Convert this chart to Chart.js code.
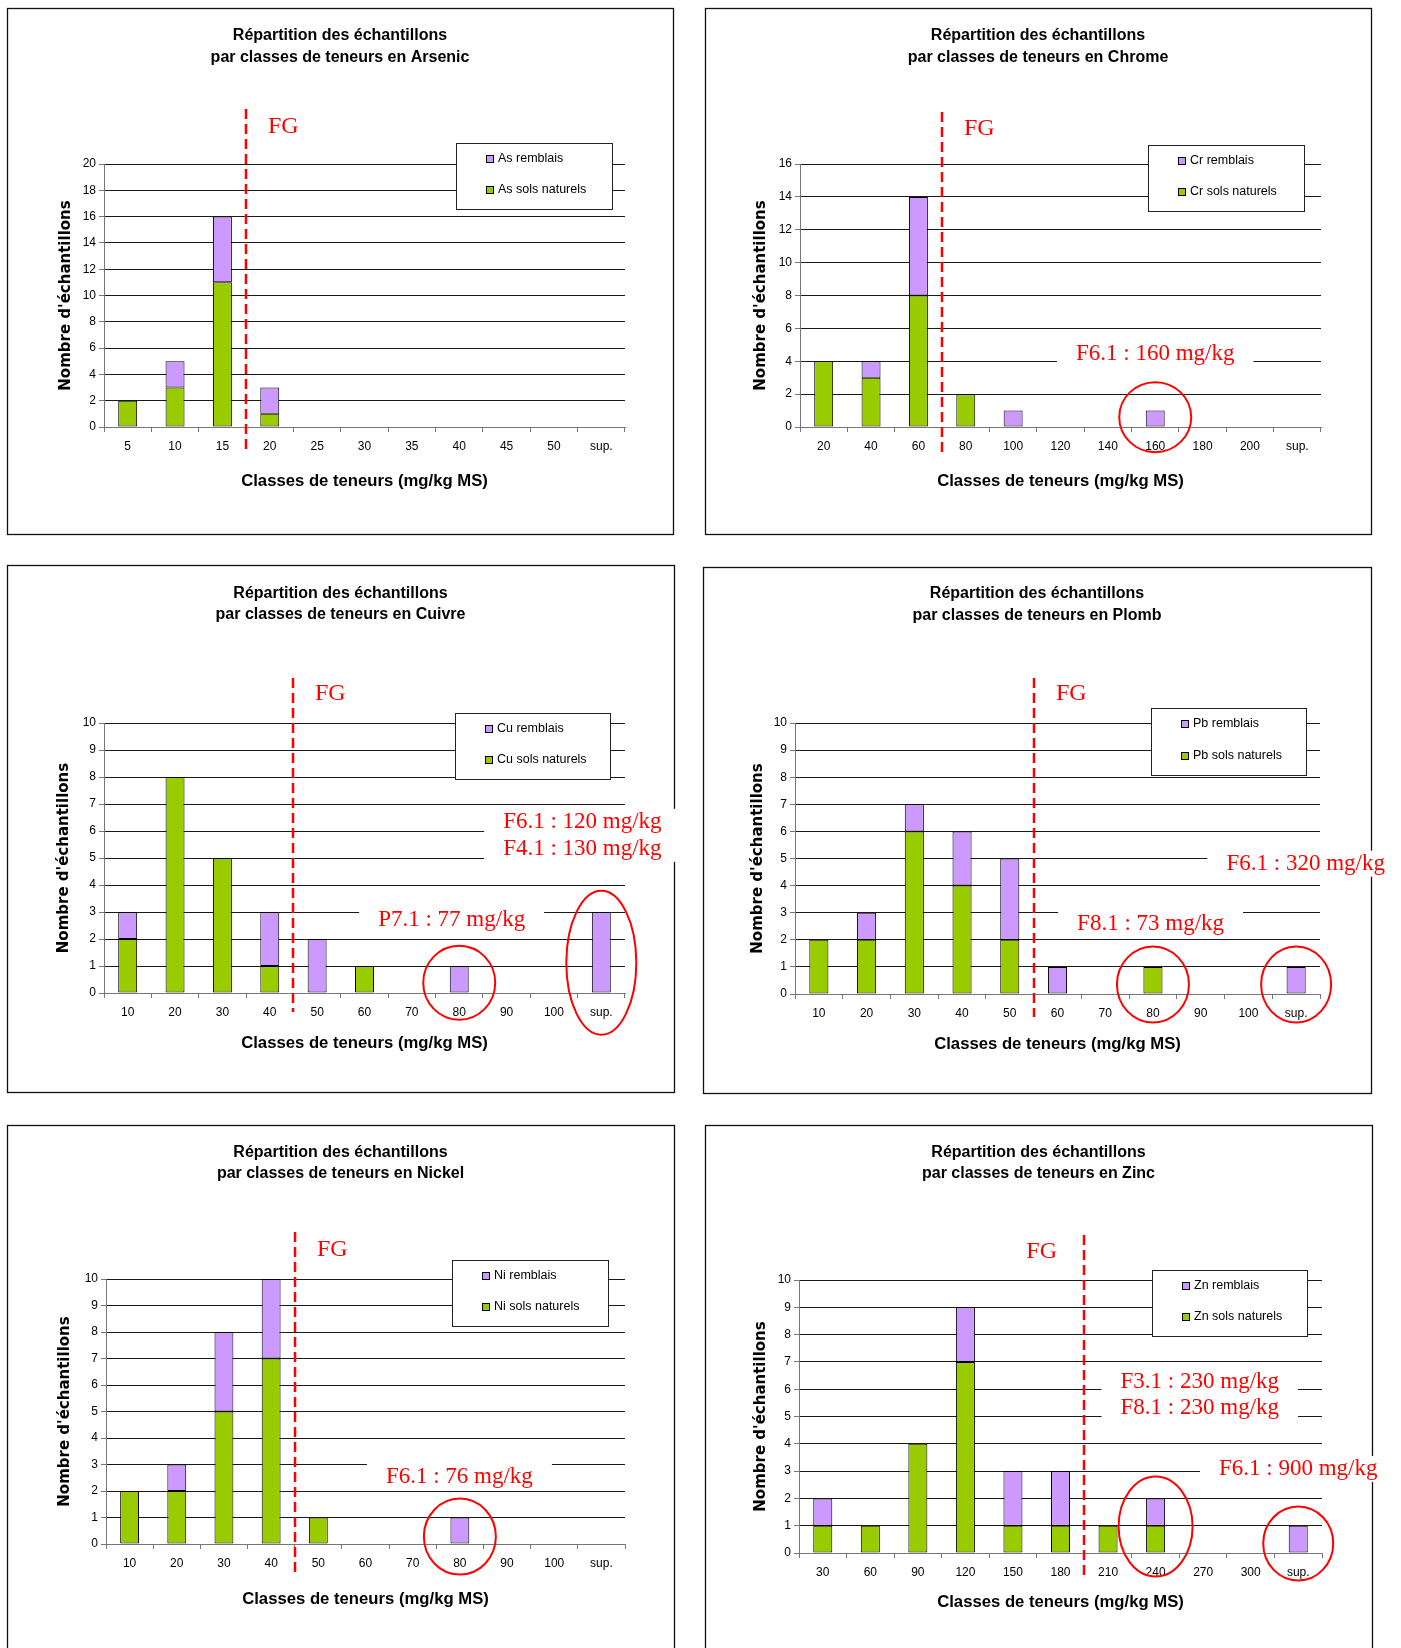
<!DOCTYPE html>
<html>
<head>
<meta charset="utf-8">
<script src="https://cdn.jsdelivr.net/npm/chart.js@4.4.1/dist/chart.umd.min.js"></script>
<style>
  html, body { margin: 0; padding: 0; background: #fff; }
  #page { position: relative; width: 1401px; height: 1648px; overflow: hidden; background: #fff; }
  .cell { position: absolute; }
</style>
</head>
<body>
<div id="page"></div>
<script>
// Classes de teneurs et nombre d'échantillons
const classesAs = ['5', '10', '15', '20', '25', '30', '35', '40', '45', '50', 'sup.'];
const natAs = [2, 3, 11, 1, 0, 0, 0, 0, 0, 0, 0];
const remAs = [0, 2, 5, 2, 0, 0, 0, 0, 0, 0, 0];

const classesCr = ['20', '40', '60', '80', '100', '120', '140', '160', '180', '200', 'sup.'];
const natCr = [4, 3, 8, 2, 0, 0, 0, 0, 0, 0, 0];
const remCr = [0, 1, 6, 0, 1, 0, 0, 1, 0, 0, 0];

const classesCu = ['10', '20', '30', '40', '50', '60', '70', '80', '90', '100', 'sup.'];
const natCu = [2, 8, 5, 1, 0, 1, 0, 0, 0, 0, 0];
const remCu = [1, 0, 0, 2, 2, 0, 0, 1, 0, 0, 3];

const classesPb = ['10', '20', '30', '40', '50', '60', '70', '80', '90', '100', 'sup.'];
const natPb = [2, 2, 6, 4, 2, 0, 0, 1, 0, 0, 0];
const remPb = [0, 1, 1, 2, 3, 1, 0, 0, 0, 0, 1];

const classesNi = ['10', '20', '30', '40', '50', '60', '70', '80', '90', '100', 'sup.'];
const natNi = [2, 2, 5, 7, 1, 0, 0, 0, 0, 0, 0];
const remNi = [0, 1, 3, 3, 0, 0, 0, 1, 0, 0, 0];

const classesZn = ['30', '60', '90', '120', '150', '180', '210', '240', '270', '300', 'sup.'];
const natZn = [1, 1, 4, 7, 1, 1, 1, 1, 0, 0, 0];
const remZn = [1, 0, 0, 2, 2, 2, 0, 1, 0, 0, 1];

const VERT = '#99CC00';
const VIOLET = '#CC99FF';
const ROUGE = '#FF0000';

// mise en page de chaque graphique (pixels dans la cellule)
const graphiques = [
  { metal: 'Arsenic', sym: 'As', classes: classesAs, nat: natAs, rem: remAs, max: 20, pas: 2,
    zone: [0, 0, 695, 552], cadre: [7, 8, 673, 534], plot: [104, 164, 625, 427],
    titreY: [36, 58], xTitreY: 481, yTitreX: 66, legende: [456, 143, 612, 209],
    fg: 2.5, fgHaut: 109, fgBas: 450, fgTexteY: 127, fgCote: 1,
    notes: [], cercles: [] },
  { metal: 'Chrome', sym: 'Cr', classes: classesCr, nat: natCr, rem: remCr, max: 16, pas: 2,
    zone: [695, 0, 706, 552], cadre: [10, 8, 676, 534], plot: [105, 164, 626, 427],
    titreY: [36, 58], xTitreY: 481, yTitreX: 66, legende: [453, 145, 609, 211],
    fg: 2.5, fgHaut: 112, fgBas: 452, fgTexteY: 129, fgCote: 1,
    notes: [{ lignes: ['F6.1 : 160 mg/kg'], i: 7, v: 4.43 }],
    cercles: [{ i: 7, v: 0.6, rx: 36, ry: 35 }] },
  { metal: 'Cuivre', sym: 'Cu', classes: classesCu, nat: natCu, rem: remCu, max: 10, pas: 1,
    zone: [0, 552, 695, 566], cadre: [7, 13, 674, 540], plot: [104, 171, 625, 441],
    titreY: [42, 63], xTitreY: 491, yTitreX: 64, legende: [455, 161, 610, 227],
    fg: 3.5, fgHaut: 126, fgBas: 460, fgTexteY: 142, fgCote: 1,
    notes: [{ lignes: ['F6.1 : 120 mg/kg', 'F4.1 : 130 mg/kg'], i: 9.6, v: 6.34, lh: 27 },
            { lignes: ['P7.1 : 77 mg/kg'], i: 6.84, v: 2.72 }],
    cercles: [{ i: 7, v: 0.38, rx: 36, ry: 37 }, { i: 10, v: 1.12, rx: 35, ry: 72 }] },
  { metal: 'Plomb', sym: 'Pb', classes: classesPb, nat: natPb, rem: remPb, max: 10, pas: 1,
    zone: [695, 552, 706, 566], cadre: [8, 15, 676, 541], plot: [100, 171, 625, 442],
    titreY: [42, 64], xTitreY: 492, yTitreX: 63, legende: [456, 156, 611, 223],
    fg: 4.5, fgHaut: 126, fgBas: 465, fgTexteY: 142, fgCote: 1,
    notes: [{ lignes: ['F6.1 : 320 mg/kg'], i: 10.2, v: 4.81 },
            { lignes: ['F8.1 : 73 mg/kg'], i: 6.95, v: 2.6 }],
    cercles: [{ i: 7, v: 0.35, rx: 36, ry: 38 }, { i: 10, v: 0.35, rx: 35, ry: 38 }] },
  { metal: 'Nickel', sym: 'Ni', classes: classesNi, nat: natNi, rem: remNi, max: 10, pas: 1,
    zone: [0, 1118, 695, 530], cadre: [7, 7, 674, 600], plot: [106, 161, 625, 426],
    titreY: [35, 56], xTitreY: 481, yTitreX: 65, legende: [452, 142, 608, 208],
    fg: 3.5, fgHaut: 114, fgBas: 455, fgTexteY: 132, fgCote: 1,
    notes: [{ lignes: ['F6.1 : 76 mg/kg'], i: 6.99, v: 2.54 }],
    cercles: [{ i: 7, v: 0.28, rx: 36, ry: 38 }] },
  { metal: 'Zinc', sym: 'Zn', classes: classesZn, nat: natZn, rem: remZn, max: 10, pas: 1,
    zone: [695, 1118, 706, 530], cadre: [10, 7, 677, 600], plot: [104, 162, 627, 435],
    titreY: [35, 56], xTitreY: 484, yTitreX: 66, legende: [457, 152, 612, 218],
    fg: 5.5, fgHaut: 117, fgBas: 459, fgTexteY: 134, fgCote: -1,
    notes: [{ lignes: ['F3.1 : 230 mg/kg', 'F8.1 : 230 mg/kg'], i: 7.93, v: 6.27, lh: 26 },
            { lignes: ['F6.1 : 900 mg/kg'], i: 10.0, v: 3.08 }],
    cercles: [{ i: 7, v: 0.97, rx: 37, ry: 50 }, { i: 10, v: 0.35, rx: 35, ry: 37 }] }
];

const SANS = '"Liberation Sans", Arial, sans-serif';
const SERIF = '"Liberation Serif", "Times New Roman", serif';
Chart.defaults.font.family = SANS;

// plugin : cadre, titres, légende, ligne FG, annotations et cercles rouges
function decor(g) {
  return {
    id: 'decor',
    beforeDraw(chart) {
      const ctx = chart.ctx;
      const b = g.cadre;
      ctx.save();
      ctx.fillStyle = '#fff';
      ctx.fillRect(0, 0, chart.width, chart.height);
      ctx.strokeStyle = '#111';
      ctx.lineWidth = 1.3;
      ctx.strokeRect(b[0] + 0.5, b[1] + 0.5, b[2] - b[0], b[3] - b[1]);
      ctx.restore();
    },
    afterDraw(chart) {
      const ctx = chart.ctx;
      const sx = chart.scales.x, sy = chart.scales.y;
      const area = chart.chartArea;
      const b = g.cadre;
      ctx.save();

      // titres
      ctx.fillStyle = '#000';
      ctx.textAlign = 'center';
      ctx.textBaseline = 'middle';
      ctx.font = 'bold 16px ' + SANS;
      ctx.fillText('Répartition des échantillons', (b[0] + b[2]) / 2, g.titreY[0]);
      ctx.fillText('par classes de teneurs en ' + g.metal, (b[0] + b[2]) / 2, g.titreY[1]);
      ctx.font = 'bold 16.7px ' + SANS;
      ctx.fillText('Classes de teneurs (mg/kg MS)', (area.left + area.right) / 2, g.xTitreY);
      ctx.save();
      ctx.translate(g.yTitreX, (area.top + area.bottom) / 2);
      ctx.rotate(-Math.PI / 2);
      ctx.font = 'bold 15px "DejaVu Sans", Verdana, sans-serif';
      ctx.fillText("Nombre d'échantillons", 0, 0);
      ctx.restore();

      // annotations (fond blanc qui coupe les lignes)
      ctx.font = '23px ' + SERIF;
      g.notes.forEach(n => {
        const px = sx.getPixelForValue(n.i);
        const py = sy.getPixelForValue(n.v);
        const lh = n.lh || 26;
        const w = Math.max(...n.lignes.map(t => ctx.measureText(t).width));
        const h = (n.lignes.length - 1) * lh;
        ctx.fillStyle = '#fff';
        ctx.fillRect(px - w / 2 - 19, py - 13, w + 38, h + 26);
        ctx.fillStyle = ROUGE;
        ctx.textAlign = 'center';
        n.lignes.forEach((t, k) => ctx.fillText(t, px, py + k * lh));
      });

      // légende
      const L = g.legende;
      ctx.fillStyle = '#fff';
      ctx.fillRect(L[0], L[1], L[2] - L[0], L[3] - L[1]);
      ctx.strokeStyle = '#222';
      ctx.lineWidth = 1;
      ctx.strokeRect(L[0] + 0.5, L[1] + 0.5, L[2] - L[0], L[3] - L[1]);
      const ds = chart.data.datasets;
      [ds[1], ds[0]].forEach((d, k) => {
        const yy = Math.round(L[1] + (L[3] - L[1]) * (k ? 0.71 : 0.24));
        ctx.fillStyle = d.backgroundColor;
        ctx.fillRect(L[0] + 30, yy - 4, 8, 8);
        ctx.strokeStyle = '#000';
        ctx.strokeRect(L[0] + 30.5, yy - 3.5, 7, 7);
        ctx.fillStyle = '#000';
        ctx.textAlign = 'left';
        ctx.font = '12.5px ' + SANS;
        ctx.fillText(d.label, L[0] + 42, yy);
      });

      // ligne FG
      const fx = Math.round(sx.getPixelForValue(g.fg));
      ctx.strokeStyle = ROUGE;
      ctx.lineWidth = 2.5;
      ctx.setLineDash([10, 5]);
      ctx.beginPath();
      ctx.moveTo(fx, g.fgHaut);
      ctx.lineTo(fx, g.fgBas);
      ctx.stroke();
      ctx.setLineDash([]);
      ctx.fillStyle = ROUGE;
      ctx.font = '24px ' + SERIF;
      ctx.textAlign = g.fgCote > 0 ? 'left' : 'right';
      ctx.fillText('FG', fx + (g.fgCote > 0 ? 22 : -27), g.fgTexteY);

      // cercles rouges
      ctx.lineWidth = 2;
      g.cercles.forEach(c => {
        ctx.beginPath();
        ctx.ellipse(sx.getPixelForValue(c.i), sy.getPixelForValue(c.v), c.rx, c.ry, 0, 0, Math.PI * 2);
        ctx.stroke();
      });
      ctx.restore();
    }
  };
}

const page = document.getElementById('page');
graphiques.forEach(g => {
  const cv = document.createElement('canvas');
  cv.className = 'cell';
  cv.width = g.zone[2];
  cv.height = g.zone[3];
  cv.style.left = g.zone[0] + 'px';
  cv.style.top = g.zone[1] + 'px';
  page.appendChild(cv);

  const p = g.plot;
  const tickFont = { size: 12, family: SANS };
  new Chart(cv.getContext('2d'), {
    type: 'bar',
    data: {
      labels: g.classes,
      datasets: [
        { label: g.sym + ' sols naturels', data: g.nat.map(v => v || null), backgroundColor: VERT,
          borderColor: '#000', borderWidth: 1, borderSkipped: false, barPercentage: 0.4, categoryPercentage: 1 },
        { label: g.sym + ' remblais', data: g.rem.map(v => v || null), backgroundColor: VIOLET,
          borderColor: '#000', borderWidth: 1, borderSkipped: false, barPercentage: 0.4, categoryPercentage: 1 }
      ]
    },
    options: {
      responsive: false,
      animation: false,
      devicePixelRatio: 1,
      // l'axe y occupe toute la marge gauche, l'axe x toute la marge basse
      layout: { padding: { left: 0, top: p[1], right: g.zone[2] - p[2], bottom: 0 } },
      plugins: { legend: { display: false }, title: { display: false }, tooltip: { enabled: false } },
      scales: {
        x: {
          stacked: true,
          offset: true,
          grid: { offset: true, drawOnChartArea: false, drawTicks: true, tickLength: 5, tickColor: '#777' },
          border: { color: '#777', width: 1 },
          ticks: { color: '#000', font: tickFont, padding: 7, maxRotation: 0, autoSkip: false },
          afterFit(s) { s.height = g.zone[3] - p[3]; }
        },
        y: {
          stacked: true,
          min: 0,
          max: g.max,
          grid: { color: '#1a1a1a', lineWidth: 1, tickLength: 5, tickColor: '#777' },
          border: { color: '#777', width: 1 },
          ticks: { stepSize: g.pas, color: '#000', font: tickFont, padding: 3 },
          afterFit(s) { s.width = p[0]; }
        }
      }
    },
    plugins: [decor(g)]
  });
});
</script>
</body>
</html>
